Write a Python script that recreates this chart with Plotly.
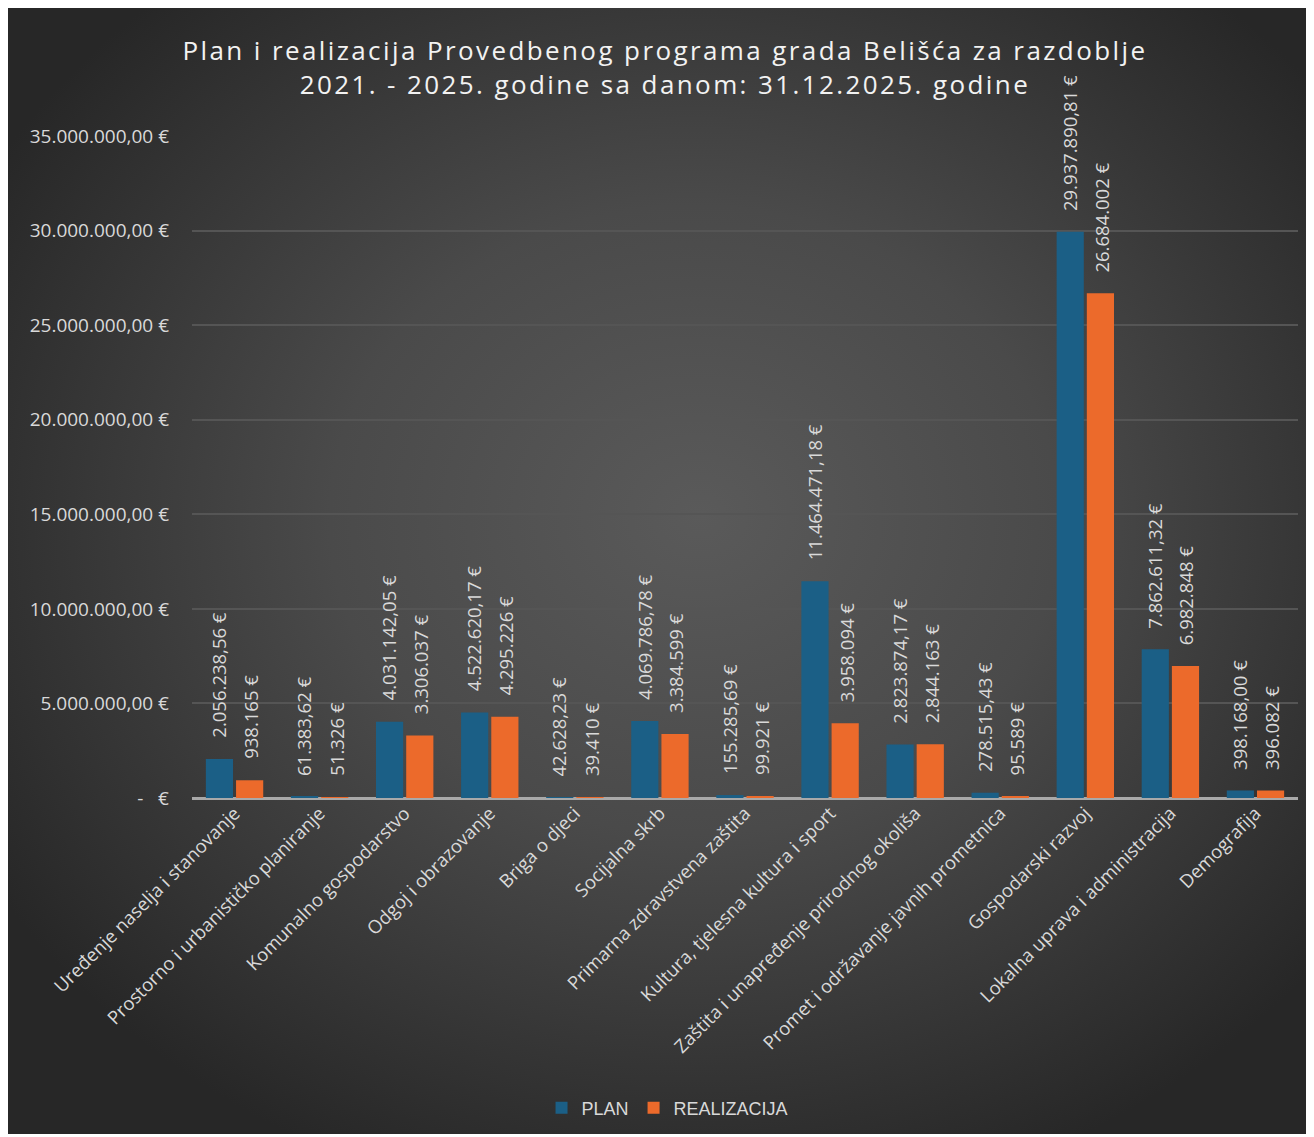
import base64
import plotly.graph_objects as go

categories = [
    "Uređenje naselja i stanovanje",
    "Prostorno i urbanističko planiranje",
    "Komunalno gospodarstvo",
    "Odgoj i obrazovanje",
    "Briga o djeci",
    "Socijalna skrb",
    "Primarna zdravstvena zaštita",
    "Kultura, tjelesna kultura i sport",
    "Zaštita i unapređenje prirodnog okoliša",
    "Promet i održavanje javnih prometnica",
    "Gospodarski razvoj",
    "Lokalna uprava i administracija",
    "Demografija",
]
plan = [2056238.56, 61383.62, 4031142.05, 4522620.17, 42628.23, 4069786.78,
        155285.69, 11464471.18, 2823874.17, 278515.43, 29937890.81,
        7862611.32, 398168.00]
realizacija = [938165, 51326, 3306037, 4295226, 39410, 3384599, 99921,
               3958094, 2844163, 95589, 26684002, 6982848, 396082]
y_tick_vals = [0, 5e6, 10e6, 15e6, 20e6, 25e6, 30e6, 35e6]
y_tick_text = ["-\u00a0\u00a0\u00a0€", "5.000.000,00 €", "10.000.000,00 €",
               "15.000.000,00 €", "20.000.000,00 €", "25.000.000,00 €",
               "30.000.000,00 €", "35.000.000,00 €"]


def hr(v, dec):
    s = f"{v:,.{dec}f}"
    s = s.replace(",", "X").replace(".", ",").replace("X", ".")
    return s + " €"


plan_txt = [hr(v, 2) for v in plan]
real_txt = [hr(v, 0) for v in realizacija]

W, H = 1306, 1126
ML, MR, MT, MB = 184, 16, 128, 336
PW, PH = W - ML - MR, H - MT - MB

svg = f'''<svg xmlns="http://www.w3.org/2000/svg" width="{W}" height="{H}" viewBox="0 0 {W} {H}" preserveAspectRatio="none">
<defs><radialGradient id="g" cx="0.52" cy="0.46" r="0.62" fx="0.53" fy="0.45">
<stop offset="0" stop-color="#5a5a5a"/><stop offset="0.45" stop-color="#4a4a4a"/><stop offset="1" stop-color="#272727"/>
</radialGradient></defs><rect width="{W}" height="{H}" fill="url(#g)"/></svg>'''
src = "data:image/svg+xml;base64," + base64.b64encode(svg.encode()).decode()

FONT = "Open Sans"
label_font = dict(family=FONT, size=18.5, color="#d9d9d9")

fig = go.Figure()
fig.add_trace(go.Bar(
    x=categories, y=plan, name="PLAN",
    marker=dict(color="#1b5f86", line=dict(width=0)),
))
fig.add_trace(go.Bar(
    x=categories, y=realizacija, name="REALIZACIJA",
    marker=dict(color="#ec6a2b", line=dict(width=0)),
))

annotations = []
for series, texts, dx in ((plan, plan_txt, -16), (realizacija, real_txt, 16)):
    for cat, val, txt in zip(categories, series, texts):
        annotations.append(dict(
            x=cat, y=val, xref="x", yref="y", text=txt, showarrow=False,
            textangle=-90, xanchor="center", yanchor="bottom",
            xshift=dx, yshift=19, font=label_font,
        ))

title_txt = ('<span style="letter-spacing:2.4px">Plan i realizacija Provedbenog programa grada Belišća za razdoblje</span><br>'
             '<span style="letter-spacing:2.4px">2021. - 2025. godine sa danom: 31.12.2025. godine</span>')

fig.update_layout(
    width=W, height=H,
    margin=dict(l=ML, r=MR, t=MT, b=MB, pad=0),
    paper_bgcolor="#2b2b2b",
    plot_bgcolor="rgba(0,0,0,0)",
    barmode="group", bargap=0.29, bargroupgap=0.1,
    title=dict(text=title_txt, x=0.503, xanchor="center", xref="container",
               y=1 - 52 / H, yanchor="middle", yref="container",
               font=dict(family=FONT, size=26, color="#f2f2f2")),
    legend=dict(orientation="h", x=0.505, xanchor="center", xref="container",
                y=1 - 1100 / H, yanchor="middle", yref="container",
                font=dict(family="Liberation Sans", size=18, color="#d9d9d9"),
                bgcolor="rgba(0,0,0,0)", itemwidth=30, traceorder="normal"),
    font=dict(family=FONT, color="#d9d9d9"),
    annotations=annotations,
    images=[dict(source=src, xref="paper", yref="paper",
                 x=-ML / PW, y=1 + MT / PH, sizex=W / PW, sizey=H / PH,
                 xanchor="left", yanchor="top", sizing="stretch", layer="below")],
    showlegend=True,
)
fig.update_xaxes(tickangle=-45, tickfont=dict(family=FONT, size=18.5, color="#d9d9d9"),
                 showgrid=False, showline=False, ticks="", zeroline=False)
fig.update_yaxes(range=[0, 35e6], tickvals=y_tick_vals, ticktext=y_tick_text,
                 tickfont=dict(family=FONT, size=19, color="#d9d9d9"),
                 showgrid=True, gridcolor="#555555", gridwidth=1.5,
                 zeroline=True, zerolinecolor="#a9a9a9", zerolinewidth=3,
                 ticks="", ticklabelstandoff=22, showline=False)

fig.write_html("out.html")
